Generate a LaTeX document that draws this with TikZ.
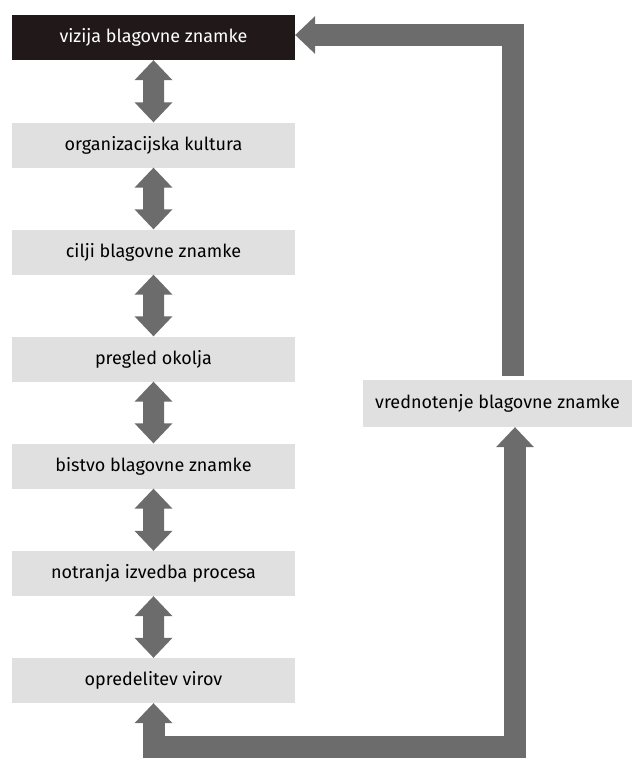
\documentclass[tikz,border=0pt]{standalone}
\usepackage{fontspec}
\setmainfont{Fira Sans}
\usetikzlibrary{arrows.meta, positioning, calc}
\definecolor{boxgray}{HTML}{E0E0E0}
\definecolor{arrowgray}{HTML}{6C6C6C}
\definecolor{darkbox}{HTML}{211919}

\begin{document}
\begin{tikzpicture}[x=1pt, y=-1pt,
    box/.style={rectangle, fill=boxgray, minimum width=283pt, minimum height=45pt,
                inner sep=0pt, font=\fontsize{18}{21}\selectfont},
    topbox/.style={box, fill=darkbox, text=white},
    fat/.style={draw=arrowgray, line width=22pt,
                >={Triangle[length=20pt, width=38pt, line width=0pt]}}
]
\useasboundingbox (0,0) rectangle (641,758);

\node[topbox] (viz)    at (153.5, 37.5)  {vizija blagovne znamke};
\node[box]    (org)    at (153.5, 145)   {organizacijska kultura};
\node[box]    (cilji)  at (153.5, 252)   {cilji blagovne znamke};
\node[box]    (okolje) at (153.5, 359)   {pregled okolja};
\node[box]    (bistvo) at (153.5, 466)   {bistvo blagovne znamke};
\node[box]    (proces) at (153.5, 573.5) {notranja izvedba procesa};
\node[box]    (viri)   at (153.5, 680.5) {opredelitev virov};
\node[box, minimum width=269pt, minimum height=47pt] (vred) at (497.5, 403.5) {vrednotenje blagovne znamke};

\coordinate (tr) at (513, 35);
\coordinate (br) at (515, 747);
\coordinate (bl) at (153.5, 747);

% double arrows between the steps
\foreach \a/\b in {viz/org, org/cilji, cilji/okolje, okolje/bistvo, bistvo/proces, proces/viri}
    \fill[arrowgray] (\a.south) -- ++(19,20) -- ++(-8.5,0) -- ($(\b.north)+(10.5,-20)$)
        -- ++(8.5,0) -- (\b.north) -- ++(-19,-20) -- ++(8.5,0)
        -- ($(\a.south)+(-10.5,20)$) -- ++(-8.5,0) -- cycle;

\draw[fat, ->] ([yshift=4pt]vred.north -| tr) -- (tr) -- (viz.east |- tr);
\draw[fat, <->] (viri.south) -- (bl) -- (br) -- (vred.south -| br);
\end{tikzpicture}
\end{document}
